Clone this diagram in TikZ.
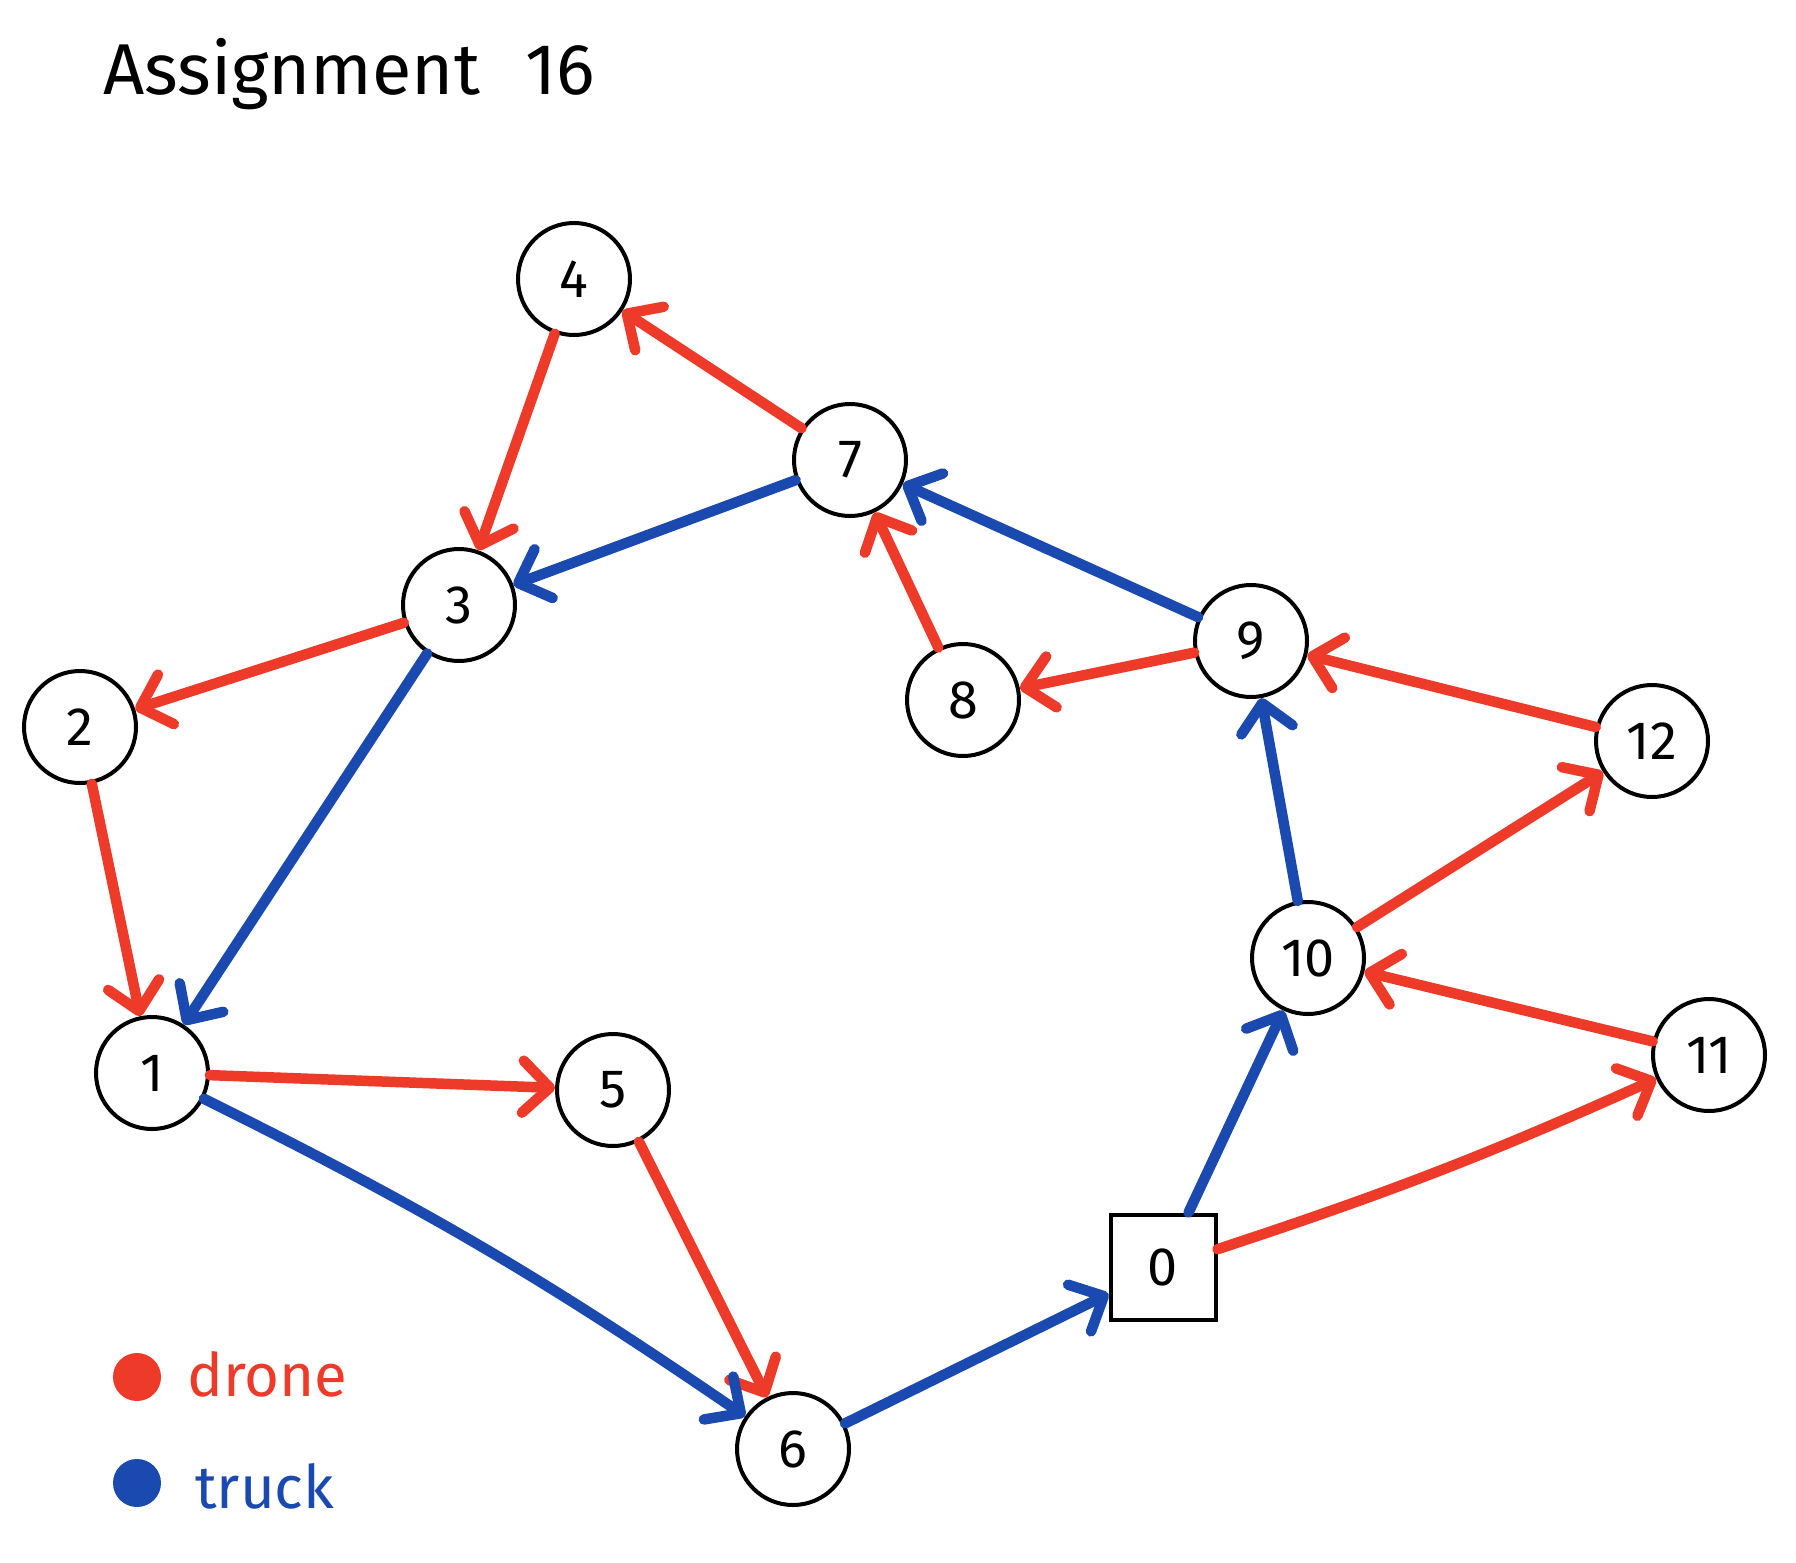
\documentclass[tikz,border=0pt]{standalone}
\usepackage{fontspec}
\setmainfont{Fira Sans}
\usetikzlibrary{arrows.meta}
\definecolor{dronered}{RGB}{238,58,41}
\definecolor{truckblue}{RGB}{26,74,176}
\begin{document}
\begin{tikzpicture}[x=1pt,y=-1pt,
  place/.style={circle,draw,line width=4pt,minimum size=112pt,inner sep=0pt,fill=white,font=\fontsize{54}{60}\selectfont},
  depot/.style={rectangle,draw,line width=4pt,minimum size=105pt,inner sep=0pt,fill=white,font=\fontsize{54}{60}\selectfont},
  dronearc/.style={draw=dronered,line width=10.5pt,line cap=round,line join=round,-{Straight Barb[length=27pt,width=52pt,round]}},
  truckarc/.style={draw=truckblue,line width=10.5pt,line cap=round,line join=round,-{Straight Barb[length=27pt,width=52pt,round]}},
  legendtext/.style={anchor=base west,inner sep=0pt,font=\fontsize{60}{66}\selectfont}]
\useasboundingbox (0,0) rectangle (1796,1563);
\fill[white] (0,0) rectangle (1796,1563);

\node[anchor=base west,inner sep=0pt,font=\fontsize{72}{80}\selectfont] (title) at (103,95) {Assignment\hspace{45pt}16};

\node[place] (n4) at (574,279) {4};
\node[place] (n7) at (850,460) {7};
\node[place] (n3) at (459,605) {3};
\node[place] (n2) at (80,727) {2};
\node[place] (n8) at (963,700) {8};
\node[place] (n9) at (1251,641) {9};
\node[place] (n12) at (1652,741) {12};
\node[place] (n10) at (1308,958) {10};
\node[place] (n11) at (1709,1055) {11};
\node[place] (n1) at (152,1073) {1};
\node[place] (n5) at (613,1090) {5};
\node[place] (n6) at (793,1449) {6};
\node[depot] (n0) at (1163,1267) {0};

% drone
\draw[dronearc] (n4) -- (n3);
\draw[dronearc] (n7) -- (n4);
\draw[dronearc] (n3) -- (n2);
\draw[dronearc] (n2) -- (n1);
\draw[dronearc] (n1) -- (n5);
\draw[dronearc] (n5) -- (n6);
\draw[dronearc] (n8) -- (n7);
\draw[dronearc] (n9) -- (n8);
\draw[dronearc] (n12) -- (n9);
\draw[dronearc] (n10) -- (n12);
\draw[dronearc] (n11) -- (n10);
\draw[dronearc] (n0) to[bend right=3] (n11);

% truck
\draw[truckarc] (n7) -- (n3);
\draw[truckarc] (n3) -- (n1);
\draw[truckarc] (n1) to[bend left=4] (n6);
\draw[truckarc] (n6) -- (n0);
\draw[truckarc] (n0) -- (n10);
\draw[truckarc] (n10) -- (n9);
\draw[truckarc] (n9) -- (n7);

% legend
\fill[dronered] (137,1377) circle (24);
\node[legendtext,text=dronered] (ldrone) at (187,1396) {drone};
\fill[truckblue] (137,1483) circle (24);
\node[legendtext,text=truckblue] (ltruck) at (195,1508) {truck};
\end{tikzpicture}
\end{document}
